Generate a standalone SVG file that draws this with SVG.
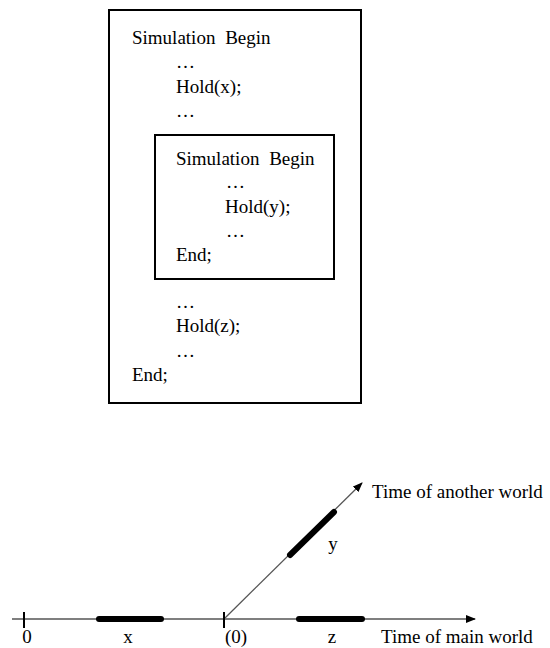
<svg xmlns="http://www.w3.org/2000/svg" width="550" height="648" viewBox="0 0 550 648">
  <style>
    .code { font-family: "Liberation Serif", "Times New Roman", serif; font-size: 19px; fill: #000; }
    .kw { word-spacing: 5px; }
    .box { fill: none; stroke: #000; stroke-width: 2; }
    .axis { stroke: #555; stroke-width: 1.3; fill: none; }
    .tick { stroke: #000; stroke-width: 2; }
    .span { stroke: #000; stroke-width: 6; stroke-linecap: round; }
  </style>
  <defs>
    <marker id="arrow" markerWidth="10" markerHeight="8" refX="9" refY="4" orient="auto" markerUnits="userSpaceOnUse">
      <path d="M0,0 L10,4 L0,8 Z" fill="#000"/>
    </marker>
  </defs>
  <rect width="550" height="648" fill="#fff"/>

  <!-- outer simulation block -->
  <g id="outer-block">
    <rect class="box" x="109" y="10" width="252" height="393"/>
    <text class="code kw" x="132" y="44">Simulation Begin</text>
    <text class="code" x="176" y="68">…</text>
    <text class="code" x="176" y="93">Hold(x);</text>
    <text class="code" x="176" y="117">…</text>
    <text class="code" x="176" y="308">…</text>
    <text class="code" x="176" y="332">Hold(z);</text>
    <text class="code" x="176" y="357">…</text>
    <text class="code" x="132" y="381">End;</text>
  </g>

  <!-- nested simulation block -->
  <g id="inner-block">
    <rect class="box" x="155" y="135" width="179" height="144"/>
    <text class="code kw" x="176" y="165">Simulation Begin</text>
    <text class="code" x="226" y="188">…</text>
    <text class="code" x="225" y="213">Hold(y);</text>
    <text class="code" x="226" y="237">…</text>
    <text class="code" x="176" y="261">End;</text>
  </g>

  <!-- time axes -->
  <g id="connectors">
    <line class="axis" x1="12" y1="619" x2="475" y2="619" marker-end="url(#arrow)"/>
    <line class="axis" x1="225" y1="618" x2="362" y2="483" marker-end="url(#arrow)"/>
    <line class="tick" x1="24" y1="612" x2="24" y2="628"/>
    <line class="tick" x1="224" y1="612" x2="224" y2="628"/>
    <line class="span" x1="99" y1="619" x2="161" y2="619"/>
    <line class="span" x1="299" y1="619" x2="362" y2="619"/>
    <line class="span" x1="290" y1="555" x2="334" y2="512"/>
  </g>

  <g id="labels">
    <text class="code" x="27" y="643" text-anchor="middle">0</text>
    <text class="code" x="128" y="643" text-anchor="middle">x</text>
    <text class="code" x="236" y="643" text-anchor="middle">(0)</text>
    <text class="code" x="332" y="643" text-anchor="middle">z</text>
    <text class="code" x="333" y="550" text-anchor="middle">y</text>
    <text class="code" x="381" y="643">Time of main world</text>
    <text class="code" x="372" y="498">Time of another world</text>
  </g>
</svg>
